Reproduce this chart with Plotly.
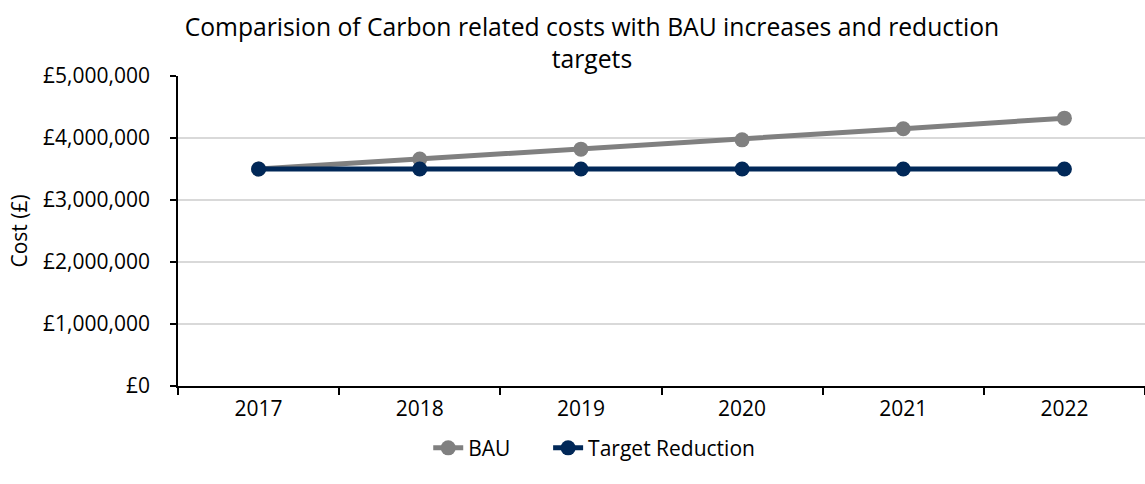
import plotly.graph_objects as go

years = ["2017", "2018", "2019", "2020", "2021", "2022"]
bau = [3500000, 3660000, 3820000, 3970000, 4150000, 4320000]
target = [3500000, 3500000, 3500000, 3500000, 3500000, 3500000]
series_names = ["BAU", "Target Reduction"]

FONT = "Open Sans"
NBSP = "\u00a0"

fig = go.Figure()
fig.add_trace(go.Scatter(
    x=years, y=bau, name=series_names[0] + NBSP * 6, mode="lines+markers",
    line=dict(color="#808080", width=5),
    marker=dict(color="#808080", size=15),
))
fig.add_trace(go.Scatter(
    x=years, y=target, name=series_names[1], mode="lines+markers",
    line=dict(color="#012858", width=5),
    marker=dict(color="#012858", size=15),
))

fig.update_layout(
    width=1145, height=484,
    margin=dict(l=178, r=0, t=76, b=98),
    paper_bgcolor="white", plot_bgcolor="white",
    font=dict(family=FONT, size=21, color="#000000"),
    title=dict(
        text="Comparision of Carbon related costs with BAU increases and reduction<br>targets",
        x=0.517, xref="container", xanchor="center",
        y=0.926, yref="container", yanchor="top",
        font=dict(family=FONT, size=24.7, color="#000000"),
    ),
    showlegend=True,
    legend=dict(
        orientation="h", xref="container", x=0.374, xanchor="left",
        yref="container", y=0.074, yanchor="middle",
        font=dict(family=FONT, size=21),
        traceorder="normal",
    ),
)

fig.update_xaxes(
    type="category", range=[-0.5, 5.5],
    showline=True, linecolor="#000000", linewidth=1.5,
    ticks="outside", tickson="boundaries", ticklen=7, tickcolor="#000000", tickwidth=1.5,
    showgrid=False,
    ticklabelstandoff=3,
    tickfont=dict(family=FONT, size=21),
)
fig.update_yaxes(
    range=[0, 5000000], dtick=1000000,
    tickprefix="£", tickformat=",",
    showline=True, linecolor="#000000", linewidth=1.5,
    ticks="outside", ticklen=6, tickcolor="#000000", tickwidth=1.5,
    showgrid=True, gridcolor="#D9D9D9", gridwidth=1.5,
    zeroline=False,
    ticklabelstandoff=16,
    tickfont=dict(family=FONT, size=21),
    title=dict(text="Cost (£)", font=dict(family=FONT, size=21), standoff=10),
)

fig.write_html(
    "out.html",
    config={"responsive": False, "displayModeBar": False},
    post_script="document.body.style.margin='0';document.body.style.overflow='hidden';",
)
